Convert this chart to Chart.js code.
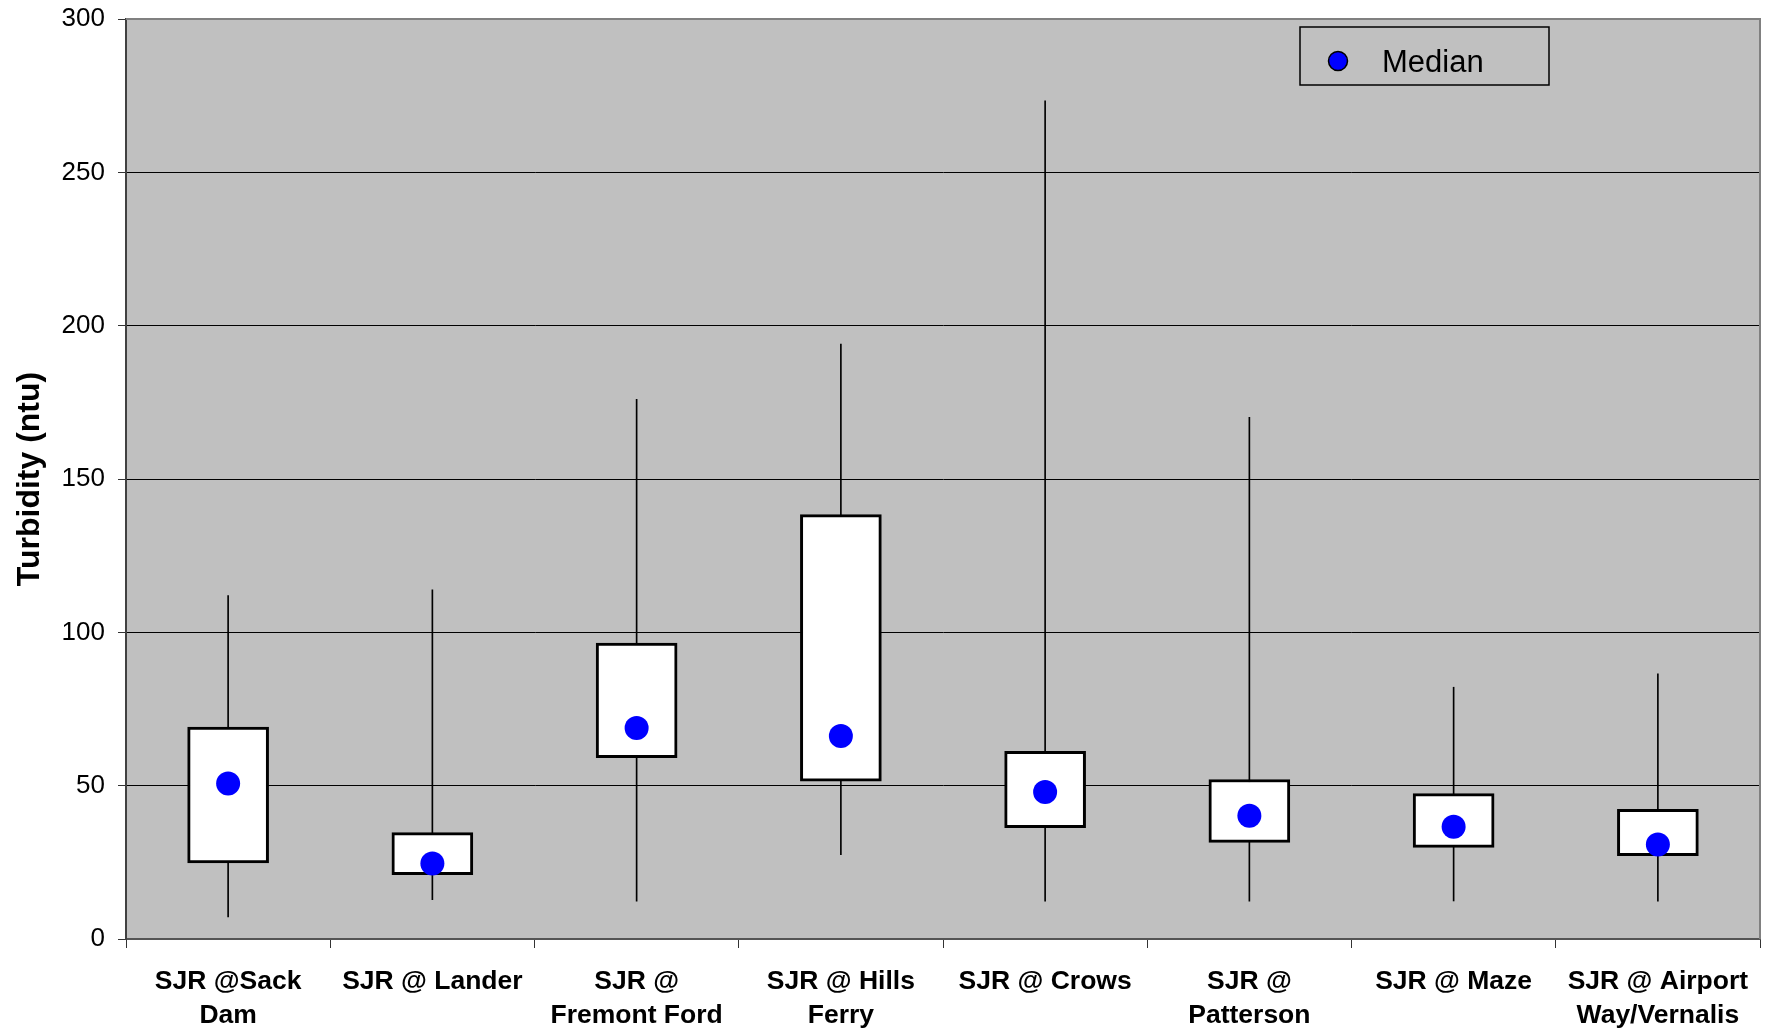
<!DOCTYPE html>
<html>
<head>
<meta charset="utf-8">
<title>Turbidity</title>
<script src="https://cdn.jsdelivr.net/npm/chart.js@4.4.0/dist/chart.umd.min.js"></script>
<style>
  html, body { margin: 0; padding: 0; background: #fff; }
</style>
</head>
<body>
<canvas id="myChart" width="1772" height="1029"></canvas>
<script>
const ctx = document.getElementById("myChart");

// sites along the river
const sites = [
  ["SJR @Sack", "Dam"],
  "SJR @ Lander",
  ["SJR @", "Fremont Ford"],
  ["SJR @ Hills", "Ferry"],
  "SJR @ Crows",
  ["SJR @", "Patterson"],
  "SJR @ Maze",
  ["SJR @ Airport", "Way/Vernalis"]
];
const minValues = [7.2, 12.8, 12.3, 27.5, 12.3, 12.3, 12.4, 12.3];
const maxValues = [112, 113.9, 176, 194, 273.3, 170.1, 82.1, 86.5];
const q1Values = [24.8, 21, 59.1, 51.5, 36.3, 31.5, 29.9, 27.2];
const q3Values = [69.1, 34.7, 96.5, 138.4, 61.2, 52, 47.4, 42.3];
const medianValues = [50.7, 24.6, 68.8, 66.2, 47.9, 40.2, 36.6, 30.8];
const yTicks = [0, 50, 100, 150, 200, 250, 300];

const FONT = "'Liberation Sans', Arial, sans-serif";

const plotBackground = {
  id: "plotBackground",
  beforeDraw(chart) {
    const a = chart.chartArea;
    const c = chart.ctx;
    c.save();
    c.fillStyle = "#C0C0C0";
    c.fillRect(a.left, a.top, a.right - a.left, a.bottom - a.top);
    c.restore();
  },
  afterDraw(chart) {
    const a = chart.chartArea;
    const c = chart.ctx;
    c.save();
    // top / right frame
    c.strokeStyle = "#808080";
    c.lineWidth = 2;
    c.beginPath();
    c.moveTo(a.left, a.top);
    c.lineTo(a.right, a.top);
    c.lineTo(a.right, a.bottom);
    c.stroke();

    // legend box
    const lx = a.right - 460, ly = a.top + 8;
    c.strokeStyle = "#000";
    c.lineWidth = 1.5;
    c.strokeRect(lx, ly, 249, 58);
    c.beginPath();
    c.arc(lx + 38, ly + 34, 9.5, 0, Math.PI * 2);
    c.fillStyle = "#0000FF";
    c.fill();
    c.lineWidth = 1.5;
    c.stroke();
    c.fillStyle = "#000";
    c.font = "31px " + FONT;
    c.textBaseline = "alphabetic";
    c.textAlign = "left";
    c.fillText("Median", lx + 82, ly + 45);
    c.restore();
  }
};

const config = {
  type: "bar",
  data: {
    labels: sites,
    datasets: [
      {
        type: "line",
        label: "Median",
        data: medianValues,
        showLine: false,
        pointStyle: "circle",
        pointRadius: 12,
        pointBorderWidth: 0,
        pointBackgroundColor: "#0000FF",
        order: 0
      },
      {
        label: "Box",
        data: q1Values.map((v, i) => [v, q3Values[i]]),
        backgroundColor: "#FFFFFF",
        borderColor: "#000000",
        borderWidth: 3,
        borderSkipped: false,
        barThickness: 81,
        grouped: false,
        order: 1
      },
      {
        label: "Range",
        data: minValues.map((v, i) => [v, maxValues[i]]),
        backgroundColor: "#000000",
        barThickness: 1,
        grouped: false,
        order: 2
      }
    ]
  },
  options: {
    responsive: false,
    animation: false,
    events: [],
    layout: { padding: { top: 19, right: 10, bottom: 0, left: 0 } },
    scales: {
      x: {
        offset: true,
        grid: {
          offset: true,
          drawOnChartArea: false,
          tickLength: 9,
          color: "#333",
          lineWidth: 1
        },
        border: { color: "#555", width: 2 },
        ticks: {
          color: "#000",
          font: { family: FONT, size: 26.5, weight: "bold", lineHeight: 1.3 },
          padding: 16,
          maxRotation: 0,
          autoSkip: false
        },
        afterFit: (s) => {
          s.height = 90;
          s.paddingLeft = 0;
          s.paddingRight = 0;
        }
      },
      y: {
        min: 0,
        max: 300,
        afterBuildTicks: (s) => { s.ticks = yTicks.map(v => ({ value: v })); },
        ticks: {
          color: "#000",
          font: { family: FONT, size: 26 },
          padding: 13
        },
        grid: {
          color: (c) => c.tick && c.tick.value === 300 ? "#808080" : "#000",
          lineWidth: 1,
          tickColor: "#333",
          tickLength: 8
        },
        border: { color: "#404040", width: 2 },
        title: {
          display: true,
          text: "Turbidity (ntu)",
          color: "#000",
          font: { family: FONT, size: 32, weight: "bold" },
          padding: { top: 11, bottom: 0 }
        },
        afterFit: (s) => {
          s.width = 126;
          s.paddingTop = 0;
          s.paddingBottom = 0;
        }
      }
    },
    plugins: {
      legend: { display: false },
      tooltip: { enabled: false }
    }
  },
  plugins: [plotBackground]
};

const chart = new Chart(ctx, config);
</script>
</body>
</html>
